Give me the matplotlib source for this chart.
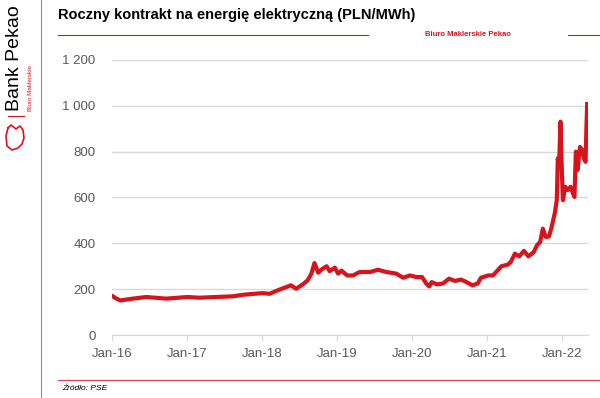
import numpy as np
import pandas as pd
import matplotlib
matplotlib.use("Agg")
import matplotlib.pyplot as plt
import matplotlib.dates as mdates
from matplotlib.lines import Line2D

# data (PLN/MWh)
dates = ["2016-01-04", "2016-01-20", "2016-02-10", "2016-04-10", "2016-06-15", "2016-09-20",
         "2017-01-02", "2017-03-01", "2017-08-10", "2017-10-01",
         "2018-01-02", "2018-02-05", "2018-03-25", "2018-05-20", "2018-06-15", "2018-07-20",
         "2018-08-10", "2018-08-28", "2018-09-12", "2018-09-30", "2018-10-15", "2018-11-10",
         "2018-11-25", "2018-12-20",
         "2019-01-05", "2019-01-22", "2019-02-18", "2019-03-18", "2019-04-20", "2019-06-10",
         "2019-07-18", "2019-08-28", "2019-10-15", "2019-11-18", "2019-12-20",
         "2020-01-22", "2020-02-18", "2020-03-10", "2020-03-24", "2020-04-05", "2020-05-01",
         "2020-05-30", "2020-06-28", "2020-07-28", "2020-08-25", "2020-09-15", "2020-10-20",
         "2020-11-15", "2020-12-01",
         "2021-01-05", "2021-01-28", "2021-02-20", "2021-03-10", "2021-04-10", "2021-04-25",
         "2021-05-15", "2021-06-05", "2021-06-28", "2021-07-20", "2021-08-15", "2021-08-30",
         "2021-09-15", "2021-09-28", "2021-10-12", "2021-10-28", "2021-11-08", "2021-11-25",
         "2021-12-05", "2021-12-10", "2021-12-16", "2021-12-23", "2021-12-30",
         "2022-01-04", "2022-01-15", "2022-01-28", "2022-02-10", "2022-02-22", "2022-03-01",
         "2022-03-08", "2022-03-16", "2022-03-28", "2022-04-08", "2022-04-16", "2022-04-24",
         "2022-04-28", "2022-05-02"]
prices = [169, 160, 151, 159, 166, 159,
          166, 163, 169, 176,
          183, 180, 198, 217, 202, 223,
          239, 268, 314, 272, 285, 300,
          279, 294,
          268, 281, 260, 260, 275, 275,
          285, 275, 268, 250, 260,
          253, 253, 224, 212, 231, 221,
          225, 246, 236, 242, 234, 217,
          225, 250,
          260, 260, 282, 300, 307, 319,
          355, 343, 367, 343, 362, 391,
          406, 464, 428, 430, 464, 530,
          588, 770, 733, 930, 704,
          588, 646, 632, 646, 617, 602,
          799, 719, 820, 806, 770, 755,
          893, 1007]
y_ticks = [0, 200, 400, 600, 800, 1000, 1200]
y_labels = ["0", "200", "400", "600", "800", "1 000", "1 200"]

red = "#d7141c"
grey = "#595959"

plt.rcParams['font.family'] = ['Liberation Sans', 'DejaVu Sans']

fig = plt.figure(figsize=(6, 3.98), dpi=100)
ax = fig.add_axes([0.187, 0.158, 0.793, 0.692])

x = pd.to_datetime(dates)
ax.plot(x, prices, color=red, lw=3, solid_joinstyle="round")

ax.set_ylim(0, 1200)
ax.set_yticks(y_ticks)
ax.set_yticklabels(y_labels)
ax.set_xlim(pd.Timestamp("2016-01-01"), pd.Timestamp("2022-05-06"))
ax.xaxis.set_major_locator(mdates.YearLocator())
ax.xaxis.set_major_formatter(mdates.DateFormatter("%b-%y"))

ax.grid(axis="y", color="#d9d9d9", lw=1)
ax.set_axisbelow(True)
for s in ["top", "right", "left"]:
    ax.spines[s].set_visible(False)
ax.spines["bottom"].set_color("#d9d9d9")
ax.tick_params(axis="y", length=0, pad=12, labelsize=9.5, labelcolor=grey)
ax.tick_params(axis="x", length=4, color="#d9d9d9", pad=5, labelsize=9.5, labelcolor=grey)

# title and frame decorations
fig.text(58 / 600, 1 - 15 / 398, "Roczny kontrakt na energię elektryczną (PLN/MWh)",
         fontsize=10.5, fontweight="bold", va="center", ha="left", color="black")
fig.add_artist(Line2D([58 / 600, 368 / 600], [1 - 35 / 398] * 2, color=red, lw=0.8,
                      transform=fig.transFigure))
fig.add_artist(Line2D([568 / 600, 1.0], [1 - 35 / 398] * 2, color=red, lw=0.8,
                      transform=fig.transFigure))
fig.text(468 / 600, 1 - 34 / 398, "Biuro Maklerskie Pekao", fontsize=5.5, fontweight="bold",
         color=red, ha="center", va="center")
fig.add_artist(Line2D([58 / 600, 1.0], [1 - 380 / 398] * 2, color="#e0405a", lw=0.9,
                      transform=fig.transFigure))
fig.text(62 / 600, 1 - 389 / 398, "Źródło: PSE", fontsize=6, style="italic",
         ha="left", va="center", color="black")
fig.add_artist(Line2D([41 / 600] * 2, [0, 1], color="#d9707a", lw=0.8,
                      transform=fig.transFigure))

# logo block
fig.text(15 / 600, 1 - 58 / 398, "Bank Pekao", rotation=90, fontsize=14,
         ha="center", va="center", color="black")
fig.text(30 / 600, 1 - 88 / 398, "Biuro Maklerskie", rotation=90, fontsize=4.5,
         ha="center", va="center", color=red)
fig.add_artist(Line2D([8 / 600, 24 / 600], [1 - 116 / 398] * 2, color=red, lw=0.8,
                      transform=fig.transFigure))
# rough bison outline
lx = np.array([8, 6, 7, 12, 18, 22, 24, 23, 20, 16, 11, 8]) / 600
ly = 1 - np.array([128, 136, 146, 150, 148, 144, 138, 130, 126, 129, 125, 128]) / 398
fig.add_artist(Line2D(lx, ly, color=red, lw=1.2, transform=fig.transFigure))

fig.savefig("out.png", dpi=100)
